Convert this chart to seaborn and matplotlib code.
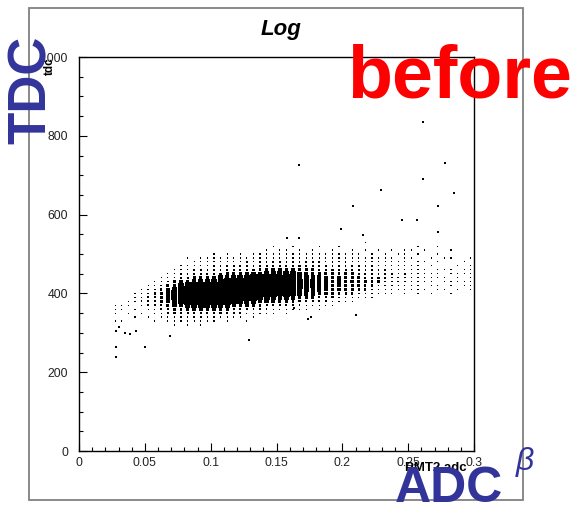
import matplotlib
matplotlib.use("Agg")
import matplotlib.pyplot as plt
import seaborn as sns
import pandas as pd
from matplotlib.patches import Rectangle
from matplotlib.ticker import FixedLocator, MultipleLocator

# ---------------- data ----------------
# ADC columns (centres of 0.005-wide bins) and TDC rows (10-wide bins)
adc_columns = [round(0.0275 + 0.005 * k, 4) for k in range(55)]
tdc_rows = list(range(320, 550, 10))
# density (0 = empty ... 9 = solid black) per column, rows 320 -> 540
density_columns = [
    "01011100000000000000000", "01001100000000000000000", "00010110000000000000000",
    "00101012100000000000000", "00010122210000000000000", "00101223221000000000000",
    "01011233321100000000000", "00112344432110000000000", "01123456654211000000000",
    "11234678875321100000000", "01234689997532110000000", "11235799998532110100000",
    "01235899999642211000000", "11235899999743211100000", "01135899999753211100000",
    "01235899999853221110000", "00134799999863221100000", "01124799999964221110000",
    "00123689999974321100000", "00123589999985321110000", "01013579999985322100000",
    "00112479999996321110000", "00012468999996422110000", "00012368999997432111000",
    "00011357999997532110100", "00001246888887532111000", "00011357999998532211000",
    "00001246888887532110100", "00001235778876432111000", "00001134677775422110000",
    "00000124667765432111000", "00001123566665322110100", "00000123556654321110000",
    "00000113455554322111000", "00000012455654321110100", "00000012345554322110000",
    "00000011344544321111000", "00000001234443321110000", "00000001233433221101010",
    "00000001123333221110000", "00000000122332211101000", "00000000112232211110000",
    "00000000112222111101000", "00000000011221111010000", "00000000111222111111000",
    "00000000011121110101000", "00000000111121111010100", "00000000010111101001000",
    "00000000101111010100000", "00000000011011101010100", "00000000010110100100000",
    "00000000101101100101000", "00000000010111010000000", "00000000001101101000000",
    "00000000011111110100000",
]
outlier_adc = [0.028, 0.028, 0.028, 0.030, 0.035, 0.039, 0.043, 0.050, 0.069, 0.129,
               0.163, 0.174, 0.176, 0.210, 0.158, 0.167, 0.199, 0.216, 0.273, 0.245,
               0.257, 0.208, 0.273, 0.285, 0.229, 0.261, 0.278, 0.167, 0.261]
outlier_tdc = [238, 264, 305, 315, 300, 297, 305, 265, 292, 282,
               363, 335, 340, 345, 540, 540, 563, 548, 556, 586,
               586, 622, 622, 655, 662, 690, 731, 726, 835]

x_ticks = [0, 0.05, 0.1, 0.15, 0.2, 0.25, 0.3]
x_tick_labels = ["0", "0.05", "0.1", "0.15", "0.2", "0.25", "0.3"]
y_ticks = [0, 200, 400, 600, 800, 1000]
y_tick_labels = ["0", "200", "400", "600", "800", "1000"]

# ---------------- build table ----------------
recs = []
for xc, col in zip(adc_columns, density_columns):
    for yc, ch in zip(tdc_rows, col):
        d = int(ch)
        if d > 0:
            recs.append((xc, yc, d))
cells = pd.DataFrame(recs, columns=["adc", "tdc", "density"])
outliers = pd.DataFrame({"adc": outlier_adc, "tdc": outlier_tdc})

# marker area (pt^2) for each density level
size_map = {1: 0.7, 2: 1.4, 3: 2.6, 4: 4.2, 5: 6.5, 6: 10, 7: 14, 8: 19, 9: 26}

# ---------------- figure ----------------
sns.set_theme(style="white")
plt.rcParams["font.family"] = ["Liberation Sans", "DejaVu Sans"]

W, H = 576, 509
fig = plt.figure(figsize=(W / 100, H / 100), dpi=100)
ax = fig.add_axes([79 / W, 1 - 451 / H, (474 - 79) / W, (451 - 57) / H])

sns.scatterplot(data=cells, x="adc", y="tdc", size="density", sizes=size_map,
                marker="s", color="black", linewidth=0,
                legend=False, ax=ax)
sns.scatterplot(data=outliers, x="adc", y="tdc", s=1.2, marker="s",
                color="black", linewidth=0, legend=False, ax=ax)

ax.set_xlim(0, 0.3)
ax.set_ylim(0, 1000)
ax.set_xlabel("")
ax.set_ylabel("")
for sp in ax.spines.values():
    sp.set_color("black")
    sp.set_linewidth(1.0)
    sp.set_visible(True)
ax.xaxis.set_major_locator(FixedLocator(x_ticks))
ax.set_xticklabels(x_tick_labels)
ax.xaxis.set_minor_locator(MultipleLocator(0.01))
ax.yaxis.set_major_locator(FixedLocator(y_ticks))
ax.set_yticklabels(y_tick_labels)
ax.yaxis.set_minor_locator(MultipleLocator(50))
ax.tick_params(which="both", direction="in", top=False, right=False,
               bottom=True, left=True, color="black", width=0.8)
ax.tick_params(which="major", length=5.8)
ax.tick_params(which="minor", length=2.9)
ax.tick_params(axis="x", which="major", pad=4.5, labelsize=8.8, labelcolor="#222222")
ax.tick_params(axis="y", which="major", pad=8, labelsize=8.8, labelcolor="#222222")

# outer gray frame
fig.add_artist(Rectangle((29 / W, 1 - 500 / H), (523 - 29) / W, (500 - 8) / H,
                         transform=fig.transFigure, fill=False,
                         edgecolor="#808080", linewidth=1.3))

# texts
fig.text(281 / W, 1 - 30 / H, "Log", ha="center", va="center",
         fontsize=16, fontweight="bold", fontstyle="italic", color="black")
fig.text(49.5 / W, 1 - 57 / H, "tdc", rotation=90, ha="center", va="top",
         fontsize=8.5, fontweight="bold", color="black")
fig.text(467 / W, 1 - 468 / H, "PMT2 adc", ha="right", va="center",
         fontsize=9.5, fontweight="bold", color="black")

blue = "#33349a"
fig.text(32 / W, 1 - 90 / H, "TDC", rotation=90, ha="center", va="center",
         fontsize=38, fontweight="bold", color=blue)
fig.text(459.5 / W, 1 - 97 / H, "before", ha="center", va="baseline",
         fontsize=53, fontweight="bold", color="#ff0000")
fig.text(448.5 / W, 1 - 502 / H, "ADC", ha="center", va="baseline",
         fontsize=36, fontweight="bold", color=blue)
fig.text(525 / W, 1 - 462 / H, "β", ha="center", va="center",
         fontsize=23, fontstyle="italic", color=blue)

fig.savefig("out.png", dpi=100)
